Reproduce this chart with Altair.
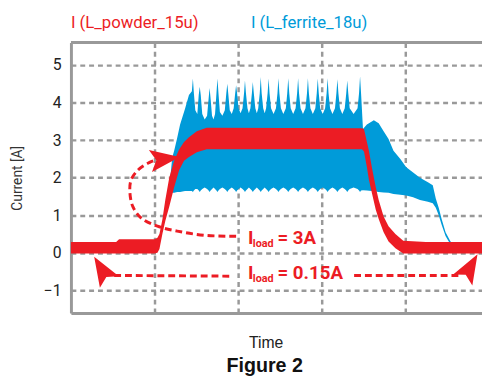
import altair as alt
import pandas as pd

RED = "#ec1c24"
BLUE = "#009bd9"
GRID = "#999999"

# ---------------- data (time in arbitrary units: 100 per grid division) ----------------
powder_t = [0, 54.1, 57.6, 98.8, 100, 103.5, 105.9, 109.4, 112.9, 117.6,
            123.5, 129.4, 135.3, 141.2, 150.6, 162.4, 348.2, 350.6, 354.1, 356.5,
            360.0, 364.7, 368.2, 374.1, 380.0, 388.2, 397.6, 424.7, 491.8]
powder_lo = [-0.02, -0.02, -0.02, -0.02, -0.02, 0.00, 0.10, 0.50, 0.85, 1.23,
             1.75, 2.20, 2.45, 2.55, 2.68, 2.76, 2.76, 2.70, 2.28, 1.95,
             1.60, 1.15, 0.90, 0.55, 0.30, 0.12, -0.02, -0.02, -0.02]
powder_hi = [0.29, 0.29, 0.36, 0.36, 0.36, 0.40, 0.50, 0.89, 1.41, 2.00,
             2.45, 2.75, 2.95, 3.08, 3.24, 3.33, 3.32, 3.30, 2.95, 2.72,
             2.28, 1.75, 1.41, 0.97, 0.71, 0.50, 0.32, 0.29, 0.29]

ferrite_t = [117.6, 121.2, 123.5, 127.1, 130.6, 136.5, 141.2, 144.7, 145.9, 147.1, 148.8,
             151.2, 152.9, 154.1, 155.3, 157.1, 160.0,
             162.9, 164.7, 165.9, 167.1, 168.8, 170.6,
             172.4, 174.1, 175.3, 176.5, 178.2, 181.2,
             184.1, 185.9, 187.1, 188.2, 190.0, 192.4,
             194.7, 196.5, 197.6, 198.8, 200.6, 202.9,
             205.3, 207.1, 208.2, 209.4, 211.2, 212.9,
             214.7, 216.5, 217.6, 218.8, 220.6, 222.4,
             224.1, 225.9, 227.1, 228.2, 230.0, 231.8,
             233.5, 235.3, 236.5, 237.6, 239.4, 242.4,
             245.3, 247.1, 248.2, 249.4, 251.2, 254.1,
             257.1, 258.8, 260.0, 261.2, 262.9, 265.9,
             268.8, 270.6, 271.8, 272.9, 274.7, 277.6,
             280.6, 282.4, 283.5, 284.7, 286.5, 289.4,
             292.4, 294.1, 295.3, 296.5, 298.2, 301.2,
             304.1, 305.9, 307.1, 308.2, 310.0, 312.9,
             315.9, 317.6, 318.8, 320.0, 321.8, 324.7,
             327.6, 329.4, 330.6, 331.8, 333.5, 338.2,
             342.9, 344.7, 345.9, 347.1,
             349.4, 354.1, 362.4, 368.2, 374.1, 380.0, 385.9, 394.1, 401.2, 409.4,
             417.6, 427.1, 432.9, 436.5, 440.0, 443.5, 448.2, 454.1, 460.0]
ferrite_hi = [1.70, 2.54, 2.72, 3.06, 3.42, 3.84, 4.20, 4.30, 4.64, 4.25, 3.80,
              3.70, 4.20, 4.42, 4.20, 3.70, 3.55,
              3.65, 4.10, 4.39, 4.10, 3.65, 3.55,
              3.70, 4.25, 4.64, 4.25, 3.75, 3.65,
              3.80, 4.25, 4.50, 4.25, 3.80, 3.70,
              3.85, 4.25, 4.46, 4.25, 3.85, 3.72,
              3.85, 4.25, 4.59, 4.25, 3.85, 3.72,
              3.85, 4.25, 4.55, 4.25, 3.85, 3.72,
              3.85, 4.25, 4.68, 4.25, 3.85, 3.72,
              3.85, 4.25, 4.64, 4.25, 3.85, 3.70,
              3.85, 4.25, 4.65, 4.25, 3.85, 3.70,
              3.85, 4.25, 4.65, 4.25, 3.85, 3.70,
              3.85, 4.25, 4.65, 4.25, 3.85, 3.70,
              3.85, 4.25, 4.65, 4.25, 3.85, 3.70,
              3.85, 4.25, 4.64, 4.25, 3.85, 3.70,
              3.85, 4.25, 4.65, 4.25, 3.85, 3.70,
              3.85, 4.25, 4.62, 4.25, 3.85, 3.70,
              3.85, 4.25, 4.59, 4.25, 3.85, 3.70,
              3.85, 4.25, 4.70, 4.25,
              3.30, 3.42, 3.53, 3.45, 3.24, 3.03, 2.72, 2.50, 2.28, 2.14,
              2.00, 1.88, 1.80, 1.45, 1.20, 0.90, 0.55, 0.30, 0.20]
ferrite_lo = [1.55, 1.60, 1.60, 1.62, 1.62, 1.65, 1.65, 1.65, 1.62, 1.66, 1.70,
              1.70, 1.66, 1.62, 1.66, 1.70, 1.74,
              1.70, 1.66, 1.62, 1.66, 1.70, 1.74,
              1.70, 1.66, 1.62, 1.66, 1.70, 1.74,
              1.70, 1.66, 1.62, 1.66, 1.70, 1.74,
              1.70, 1.66, 1.62, 1.66, 1.70, 1.74,
              1.70, 1.66, 1.62, 1.66, 1.70, 1.74,
              1.70, 1.66, 1.62, 1.66, 1.70, 1.74,
              1.70, 1.66, 1.62, 1.66, 1.70, 1.74,
              1.70, 1.66, 1.62, 1.66, 1.70, 1.74,
              1.70, 1.66, 1.62, 1.66, 1.70, 1.74,
              1.70, 1.66, 1.62, 1.66, 1.70, 1.74,
              1.70, 1.66, 1.62, 1.66, 1.70, 1.74,
              1.70, 1.66, 1.62, 1.66, 1.70, 1.74,
              1.70, 1.66, 1.62, 1.66, 1.70, 1.74,
              1.70, 1.66, 1.62, 1.66, 1.70, 1.74,
              1.70, 1.66, 1.62, 1.66, 1.70, 1.74,
              1.70, 1.66, 1.62, 1.66, 1.70, 1.74,
              1.70, 1.66, 1.62, 1.66,
              1.67, 1.66, 1.64, 1.62, 1.61, 1.60, 1.57, 1.55, 1.53, 1.48,
              1.41, 1.36, 1.32, 1.20, 1.00, 0.75, 0.45, 0.22, 0.12]

legend_labels = ["I (L_powder_15u)", "I (L_ferrite_18u)"]
y_ticks = [-1, 0, 1, 2, 3, 4, 5]
x_grid = [100, 200, 300, 400]

# annotation paths (dashed red arrows)
path_id = ["a"] * 11 + ["b"] * 2 + ["c"] * 2
path_t = [197.6, 158.8, 127.1, 103.5, 83.5, 74.1, 70.6, 71.8, 80.0, 94.1, 103.5,
          189.4, 49.4,
          338.8, 464.7]
path_v = [0.44, 0.47, 0.58, 0.71, 0.94, 1.23, 1.59, 1.93, 2.20, 2.41, 2.48,
          -0.62, -0.60,
          -0.60, -0.60]
head_t = [112.6, 36.9, 477.6]
head_v = [2.50, -0.44, -0.38]
head_angle = [352, 239, 300]

ann_main = ["I", "= 3A", "I", "= 0.15A"]
ann_main_t = [211.8, 247.1, 211.8, 247.1]
ann_main_v = [0.235, 0.235, -0.706, -0.706]
ann_sub = ["load", "load"]
ann_sub_t = [217.6, 217.6]
ann_sub_v = [0.157, -0.784]

# ---------------- frames ----------------
powder = pd.DataFrame({"t": powder_t, "lo": powder_lo, "hi": powder_hi})
ferrite = pd.DataFrame({"t": ferrite_t, "lo": ferrite_lo, "hi": ferrite_hi})
paths = pd.DataFrame({"id": path_id, "t": path_t, "v": path_v, "o": list(range(len(path_t)))})
heads = pd.DataFrame({"t": head_t, "v": head_v, "angle": head_angle})
main_txt = pd.DataFrame({"txt": ann_main, "t": ann_main_t, "v": ann_main_v})
sub_txt = pd.DataFrame({"txt": ann_sub, "t": ann_sub_t, "v": ann_sub_v})

W, H = 418, 275
xs = alt.Scale(domain=[0, 491.8], nice=False, zero=False)
ys = alt.Scale(domain=[-1.6, 5.6], nice=False, zero=False)

x_axis = alt.Axis(values=x_grid, labels=False, ticks=False, grid=True,
                  gridDash=[5, 4], gridColor=GRID, gridWidth=2.5,
                  domainColor=GRID, domainWidth=3, zindex=0,
                  title="Time", titleFont="Liberation Sans", titleFontSize=16,
                  titleFontWeight="normal", titleColor="#222", titlePadding=22,
                  titleX=198)
y_axis = alt.Axis(values=y_ticks, ticks=False, grid=True,
                  gridDash=[5, 4], gridColor=GRID, gridWidth=2.5,
                  domainColor=GRID, domainWidth=3, zindex=0,
                  labelFont="Roboto", labelFontSize=16, labelColor="#222", labelPadding=10,
                  title="Current [A]", titleFont="Roboto", titleFontSize=14,
                  titleFontWeight="normal", titleColor="#333", titlePadding=19)

X = alt.X("t:Q", scale=xs, axis=x_axis)

blue_area = alt.Chart(ferrite).mark_area(color=BLUE, opacity=1).encode(
    x=X, y=alt.Y("hi:Q", scale=ys, axis=y_axis), y2="lo:Q")
red_area = alt.Chart(powder).mark_area(color=RED, opacity=1).encode(
    x=X, y=alt.Y("hi:Q", scale=ys, axis=y_axis), y2="lo:Q")

dash = alt.Chart(paths).mark_line(color=RED, strokeWidth=3, strokeDash=[7, 4],
                                  interpolate="catmull-rom").encode(
    x=X, y=alt.Y("v:Q", scale=ys, axis=y_axis), detail="id:N", order="o:Q")

arrow_path = "M1,0 L-1,-0.75 L-0.6,0 L-1,0.75 Z"
heads_mark = alt.Chart(heads).mark_point(shape=arrow_path, filled=True, color=RED,
                                         opacity=1, size=900, strokeWidth=0).encode(
    x=X, y=alt.Y("v:Q", scale=ys, axis=y_axis), angle=alt.Angle("angle:Q", scale=None))

txt_main = alt.Chart(main_txt).mark_text(color=RED, font="Roboto", fontSize=19,
                                         fontWeight="bold", align="left",
                                         baseline="alphabetic").encode(
    x=X, y=alt.Y("v:Q", scale=ys, axis=y_axis), text="txt:N")
txt_sub = alt.Chart(sub_txt).mark_text(color=RED, font="Roboto", fontSize=11,
                                       fontWeight="bold", align="left",
                                       baseline="alphabetic").encode(
    x=X, y=alt.Y("v:Q", scale=ys, axis=y_axis), text="txt:N")

one = pd.DataFrame({"k": [0]})
top_border = alt.Chart(one).mark_rule(color=GRID, strokeWidth=3).encode(
    x=alt.value(0), x2=alt.value(W), y=alt.value(0))
leg1 = alt.Chart(one).mark_text(text=legend_labels[0], color=RED, font="Roboto",
                                fontSize=17, align="left", baseline="alphabetic").encode(
    x=alt.value(0), y=alt.value(-15))
leg2 = alt.Chart(one).mark_text(text=legend_labels[1], color=BLUE, font="Roboto",
                                fontSize=17, align="left", baseline="alphabetic").encode(
    x=alt.value(183), y=alt.value(-15))
fig = alt.Chart(one).mark_text(text="Figure 2", color="#111", font="Liberation Sans",
                               fontSize=20, fontWeight="bold", align="center",
                               baseline="alphabetic").encode(
    x=alt.value(197), y=alt.value(335))

chart = alt.layer(blue_area, red_area, dash, heads_mark, txt_main, txt_sub,
                  top_border, leg1, leg2, fig).properties(
    width=W, height=H,
    autosize=alt.AutoSizeParams(type="none"),
    padding={"left": 64, "top": 32, "right": 0, "bottom": 62},
).configure_view(stroke=None).configure(background="white")

chart.save("out.html", embed_options={"renderer": "svg", "actions": False})
